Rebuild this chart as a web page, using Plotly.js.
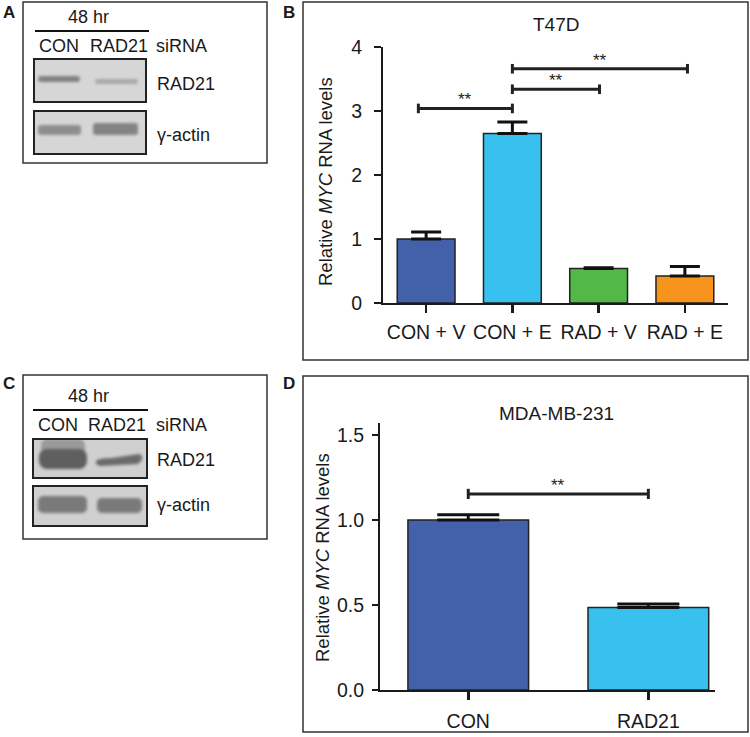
<!DOCTYPE html>
<html>
<head>
<meta charset="utf-8">
<script src="https://cdn.plot.ly/plotly-3.0.1.min.js"></script>
<style>html,body{margin:0;padding:0;background:#fff}#chart{width:750px;height:737px}</style>
</head>
<body>
<div id="chart"></div>
<script>
// ---- Data ----
const categoriesB = ['CON + V', 'CON + E', 'RAD + V', 'RAD + E'];
const valuesB = [1.0, 2.65, 0.54, 0.42];
const errorsB = [0.11, 0.18, 0.01, 0.15];
const sigFromB = [-0.09, 1, 1];
const sigToB = [1, 2.01, 3.03];
const sigYB = [3.04, 3.34, 3.66];
const sigLabelB = ['**', '**', '**'];

const categoriesD = ['CON', 'RAD21'];
const valuesD = [1.0, 0.485];
const errorsD = [0.03, 0.02];
const sigFromD = [0];
const sigToD = [1];
const sigYD = [1.153];
const sigLabelD = ['**'];

const titleB = 'T47D';
const titleD = 'MDA-MB-231';
const yTitle = 'Relative <i>MYC</i> RNA levels';

// ---- Styles ----
const colorsB = ['#4361ab', '#38c0ef', '#52b848', '#f7941d'];
const colorsD = ['#4361ab', '#38c0ef'];
const FONT = 'Liberation Sans, Arial, Helvetica, sans-serif';
const W = 750, H = 737;
const P = x => x / W;
const Q = y => 1 - y / H;

function blotSVG(w, h, bg, bands) {
  const inner = bands.map(b => b.d
    ? `<path d="${b.d}" fill="${b.fill}" filter="url(#f)"/>`
    : `<rect x="${b.x}" y="${b.y}" width="${b.w}" height="${b.h}" rx="${b.rx||3}" fill="${b.fill}" filter="url(#f)"/>`).join('');
  const svg = `<svg xmlns="http://www.w3.org/2000/svg" width="${w}" height="${h}" viewBox="0 0 ${w} ${h}">` +
    `<defs><filter id="f" x="-30%" y="-80%" width="160%" height="260%"><feGaussianBlur stdDeviation="1.5"/></filter></defs>` +
    `<rect width="${w}" height="${h}" fill="${bg}"/>${inner}` +
    `<rect x="1" y="1" width="${w-2}" height="${h-2}" fill="none" stroke="#222" stroke-width="2"/></svg>`;
  return 'data:image/svg+xml;charset=utf-8,' + encodeURIComponent(svg);
}
function blotImage(x0, y0, w, h, src) {
  return {source: src, xref: 'paper', yref: 'paper', x: P(x0), y: Q(y0),
    sizex: w / W, sizey: h / H, xanchor: 'left', yanchor: 'top', sizing: 'stretch', layer: 'above'};
}

const images = [
  blotImage(33, 58, 114, 45, blotSVG(114, 45, '#d6d6d6', [
    {x: 5, y: 18, w: 42, h: 6, fill: '#808080'},
    {x: 62, y: 21, w: 43, h: 5, fill: '#a8a8a8'}])),
  blotImage(33, 110, 114, 45, blotSVG(114, 45, '#d6d6d6', [
    {x: 5, y: 15, w: 43, h: 10, fill: '#8e8e8e'},
    {x: 60, y: 13, w: 45, h: 12, fill: '#838383'}])),
  blotImage(32, 438, 116, 41, blotSVG(116, 41, '#d0d0d0', [
    {x: 9, y: 1, w: 44, h: 16, rx: 6, fill: '#9a9a9a'},
    {x: 7, y: 11, w: 48, h: 20, rx: 8, fill: '#5e5e5e'},
    {d: 'M64,23 Q66,20 80,20 L107,16 Q111,17 110,22 L106,26 L68,28 Q63,27 64,23 Z', fill: '#6a6a6a'}])),
  blotImage(32, 485, 116, 42, blotSVG(116, 42, '#d0d0d0', [
    {x: 6, y: 11, w: 49, h: 17, rx: 5, fill: '#7a7a7a'},
    {x: 65, y: 13, w: 45, h: 15, rx: 5, fill: '#7a7a7a'}]))
];

// ---- Traces ----
const traces = [
  {type: 'bar', x: categoriesB, y: valuesB, xaxis: 'x', yaxis: 'y', width: 0.67,
    marker: {color: colorsB, line: {color: '#222', width: 1.5}},
    error_y: {type: 'data', array: errorsB, arrayminus: errorsB.map(() => 0), symmetric: false,
      thickness: 3, width: 15, color: '#111'},
    hoverinfo: 'x+y', showlegend: false},
  {type: 'bar', x: categoriesD, y: valuesD, xaxis: 'x2', yaxis: 'y2', width: 0.67,
    marker: {color: colorsD, line: {color: '#222', width: 1.5}},
    error_y: {type: 'data', array: errorsD, arrayminus: errorsD.map(() => 0), symmetric: false,
      thickness: 3, width: 31, color: '#111'},
    hoverinfo: 'x+y', showlegend: false}
];

// ---- Shapes ----
const shapes = [];
const box = (x0, y0, x1, y1) => shapes.push({type: 'rect', xref: 'paper', yref: 'paper',
  x0: P(x0), x1: P(x1), y0: Q(y1), y1: Q(y0), line: {color: '#333', width: 1.5}, fillcolor: 'rgba(0,0,0,0)'});
box(23, 2, 267, 163);
box(303, 2, 748, 360);
box(23, 375, 267, 539);
box(303, 376, 748, 732);
const hline = (x0, x1, y) => shapes.push({type: 'line', xref: 'paper', yref: 'paper',
  x0: P(x0), x1: P(x1), y0: Q(y), y1: Q(y), line: {color: '#111', width: 2}});
hline(35, 149, 31);
hline(33, 148, 410);

function bracket(xr, yr, x0, x1, y, cap) {
  const ln = {color: '#222', width: 3};
  shapes.push({type: 'line', xref: xr, yref: yr, x0: x0, x1: x1, y0: y, y1: y, line: ln});
  shapes.push({type: 'line', xref: xr, yref: yr, x0: x0, x1: x0, y0: y - cap, y1: y + cap, line: ln});
  shapes.push({type: 'line', xref: xr, yref: yr, x0: x1, x1: x1, y0: y - cap, y1: y + cap, line: ln});
}
sigYB.forEach((y, i) => bracket('x', 'y', sigFromB[i], sigToB[i], y, 0.075));
sigYD.forEach((y, i) => bracket('x2', 'y2', sigFromD[i], sigToD[i], y, 0.03));

// ---- Annotations ----
const ann = [];
const txt = (x, y, text, size, opts) => ann.push(Object.assign({xref: 'paper', yref: 'paper', x: P(x), y: Q(y),
  text: text, showarrow: false, font: {family: FONT, size: size, color: '#1a1a1a'}, xanchor: 'center', yanchor: 'middle'}, opts || {}));
// panel letters
txt(9, 12, '<b>A</b>', 17);
txt(289, 12, '<b>B</b>', 17);
txt(9, 384, '<b>C</b>', 17);
txt(289, 384, '<b>D</b>', 17);
// blot labels A
txt(88, 17, '48 hr', 18);
txt(59, 46, 'CON', 18);
txt(119, 46, 'RAD21', 18);
txt(154, 46, 'siRNA', 18, {xanchor: 'left'});
txt(155, 84, 'RAD21', 18, {xanchor: 'left'});
txt(155, 135, 'γ-actin', 18, {xanchor: 'left'});
// blot labels C
txt(88, 396, '48 hr', 18);
txt(58, 425, 'CON', 18);
txt(117, 425, 'RAD21', 18);
txt(154, 425, 'siRNA', 18, {xanchor: 'left'});
txt(155, 460, 'RAD21', 18, {xanchor: 'left'});
txt(155, 505, 'γ-actin', 18, {xanchor: 'left'});
// chart titles
txt(556, 25, titleB, 19);
txt(556, 413, titleD, 19);
// y titles
txt(325, 182, yTitle, 18.5, {textangle: -90});
txt(322, 558, yTitle, 18.5, {textangle: -90});
// significance stars
sigYB.forEach((y, i) => ann.push({xref: 'x', yref: 'y', x: (sigFromB[i] + sigToB[i]) / 2, y: y,
  text: sigLabelB[i], showarrow: false, yanchor: 'bottom', yshift: -3, font: {family: FONT, size: 17, color: '#222'}}));
sigYD.forEach((y, i) => ann.push({xref: 'x2', yref: 'y2', x: (sigFromD[i] + sigToD[i]) / 2, y: y,
  text: sigLabelD[i], showarrow: false, yanchor: 'bottom', yshift: -3, font: {family: FONT, size: 17, color: '#222'}}));

// ---- Axes ----
const axBase = {showline: true, linewidth: 2, linecolor: '#1a1a1a', ticks: 'outside', tickwidth: 2.5,
  tickcolor: '#1a1a1a', showgrid: false, zeroline: false, fixedrange: true,
  tickfont: {family: FONT, size: 19.5, color: '#1a1a1a'}};

const layout = {
  width: W, height: H, margin: {l: 0, r: 0, t: 0, b: 0},
  paper_bgcolor: '#fff', plot_bgcolor: 'rgba(0,0,0,0)', showlegend: false,
  xaxis: Object.assign({}, axBase, {domain: [P(383), P(728)], anchor: 'y', type: 'category',
    range: [-0.5, 3.5], ticklen: 8, ticklabelstandoff: 3}),
  yaxis: Object.assign({}, axBase, {domain: [Q(303), Q(47)], anchor: 'x', range: [0, 4], dtick: 1,
    ticklen: 7, ticklabelstandoff: 8}),
  xaxis2: Object.assign({}, axBase, {domain: [P(380), P(715)], anchor: 'y2', type: 'category',
    range: [-0.49, 1.37], ticklen: 8, ticklabelstandoff: 5}),
  yaxis2: Object.assign({}, axBase, {domain: [Q(690), Q(423)], anchor: 'x2', range: [0, 1.57],
    tickvals: [0, 0.5, 1.0, 1.5], ticktext: ['0.0', '0.5', '1.0', '1.5'], ticklen: 6, ticklabelstandoff: 4}),
  shapes: shapes, annotations: ann, images: images
};

Plotly.newPlot('chart', traces, layout, {displayModeBar: false, staticPlot: true});
</script>
</body>
</html>
